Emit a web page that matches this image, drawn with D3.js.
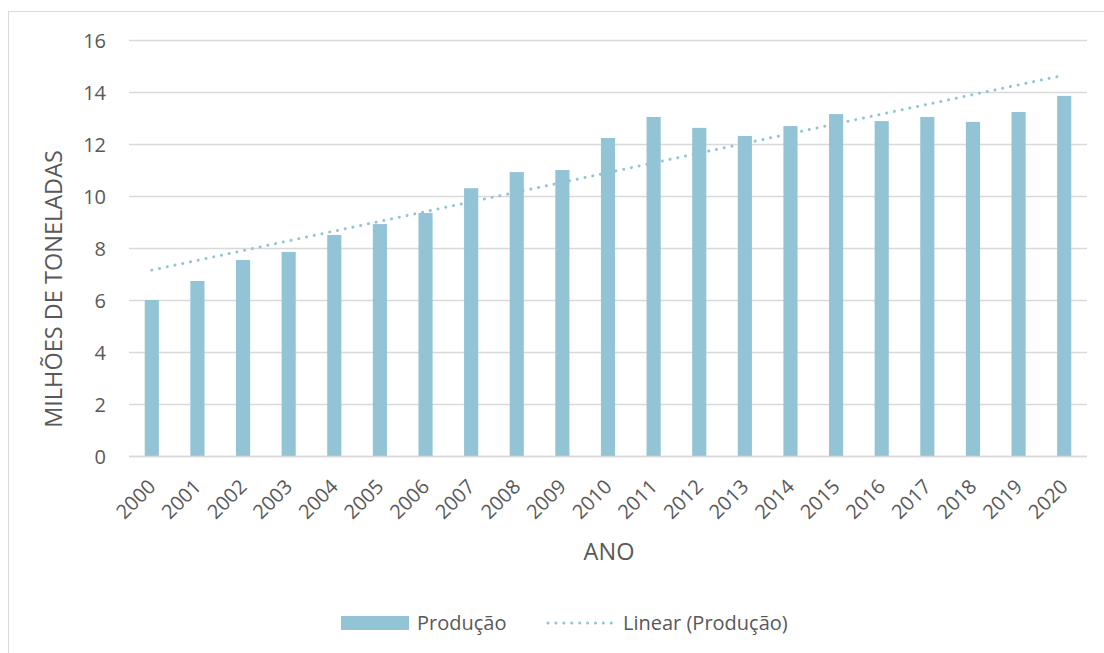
<!DOCTYPE html>
<html>
<head>
<meta charset="utf-8">
<script src="https://cdn.jsdelivr.net/npm/d3@7"></script>
<style>
    body { margin: 0; background: #fff; }
    text { font-family: "Open Sans", "Noto Sans", sans-serif; fill: #595959; }
</style>
</head>
<body>
<svg id="chart" width="1104" height="653"></svg>
<script>
const anos = ["2000","2001","2002","2003","2004","2005","2006","2007","2008","2009","2010",
    "2011","2012","2013","2014","2015","2016","2017","2018","2019","2020"];
const producao = [6.0, 6.73, 7.54, 7.85, 8.5, 8.92, 9.35, 10.3, 10.92, 11.0, 12.23,
    13.04, 12.62, 12.31, 12.69, 13.15, 12.88, 13.04, 12.85, 13.23, 13.85];
// linear trend, read at first and last year
const tendencia = [["2000", 7.15], ["2020", 14.65]];
const y_ticks = [0, 2, 4, 6, 8, 10, 12, 14, 16];

const bar_color = "#92c4d5";
const svg = d3.select("#chart");

// outer frame
svg.append("rect")
    .attr("x", 8.5).attr("y", 11.5)
    .attr("width", 1100).attr("height", 650)
    .attr("fill", "none").attr("stroke", "#d9d9d9");

const x = d3.scaleBand().domain(anos).range([129, 1087]).paddingInner(0.69).paddingOuter(0.345);
const y = d3.scaleLinear().domain([0, 16]).range([456, 40]);

// grid
svg.append("g")
    .selectAll("line")
    .data(y_ticks)
    .join("line")
    .attr("x1", 129).attr("x2", 1087)
    .attr("y1", d => y(d) + 0.5).attr("y2", d => y(d) + 0.5)
    .attr("stroke", "#d9d9d9").attr("stroke-width", 1.3);

// y axis labels
const yAxis = svg.append("g")
    .attr("transform", "translate(106,0)")
    .call(d3.axisLeft(y).tickValues(y_ticks).tickSize(0).tickPadding(0));
yAxis.select(".domain").remove();
yAxis.selectAll("text").style("font-size", "20px").attr("fill", "#595959").attr("dy", "0.36em");

// bars
svg.append("g")
    .selectAll("rect")
    .data(producao)
    .join("rect")
    .attr("x", (d, i) => x(anos[i]))
    .attr("width", x.bandwidth())
    .attr("y", d => y(d))
    .attr("height", d => y(0) - y(d))
    .attr("fill", bar_color);

// x axis
const xAxis = svg.append("g")
    .attr("transform", `translate(0,${y(0)})`)
    .call(d3.axisBottom(x).tickSize(0).tickPadding(0));
xAxis.select(".domain").remove();
xAxis.selectAll("text")
    .style("font-size", "20px")
    .attr("fill", "#595959")
    .attr("text-anchor", "end")
    .attr("dy", 0)
    .attr("transform", "translate(5,32) rotate(-45)");
svg.append("line")
    .attr("x1", 129).attr("x2", 1087)
    .attr("y1", y(0) + 0.5).attr("y2", y(0) + 0.5)
    .attr("stroke", "#d9d9d9").attr("stroke-width", 1.5);

// trend line
svg.append("path")
    .datum(tendencia)
    .attr("d", d3.line().x(d => x(d[0]) + x.bandwidth() / 2).y(d => y(d[1])))
    .attr("fill", "none")
    .attr("stroke", bar_color)
    .attr("stroke-width", 3)
    .attr("stroke-linecap", "round")
    .attr("stroke-dasharray", "0.01,7.9");

// axis titles
svg.append("text")
    .attr("transform", "translate(62,289) rotate(-90)")
    .attr("text-anchor", "middle")
    .style("font-size", "23.5px")
    .text("MILHÕES DE TONELADAS");
svg.append("text")
    .attr("x", 609).attr("y", 560)
    .attr("text-anchor", "middle")
    .style("font-size", "23.5px")
    .text("ANO");

// legend
const legend = svg.append("g").attr("transform", "translate(341,623)");
legend.append("rect")
    .attr("x", 0).attr("y", -7).attr("width", 68).attr("height", 14)
    .attr("fill", bar_color);
legend.append("text")
    .attr("x", 76).attr("y", 0).attr("dy", "0.36em")
    .style("font-size", "20px")
    .text("Produção");
legend.append("line")
    .attr("x1", 207).attr("x2", 273)
    .attr("y1", 0).attr("y2", 0)
    .attr("stroke", bar_color)
    .attr("stroke-width", 3)
    .attr("stroke-linecap", "round")
    .attr("stroke-dasharray", "0.01,7.9");
legend.append("text")
    .attr("x", 282).attr("y", 0).attr("dy", "0.36em")
    .style("font-size", "20px")
    .text("Linear (Produção)");
</script>
</body>
</html>
